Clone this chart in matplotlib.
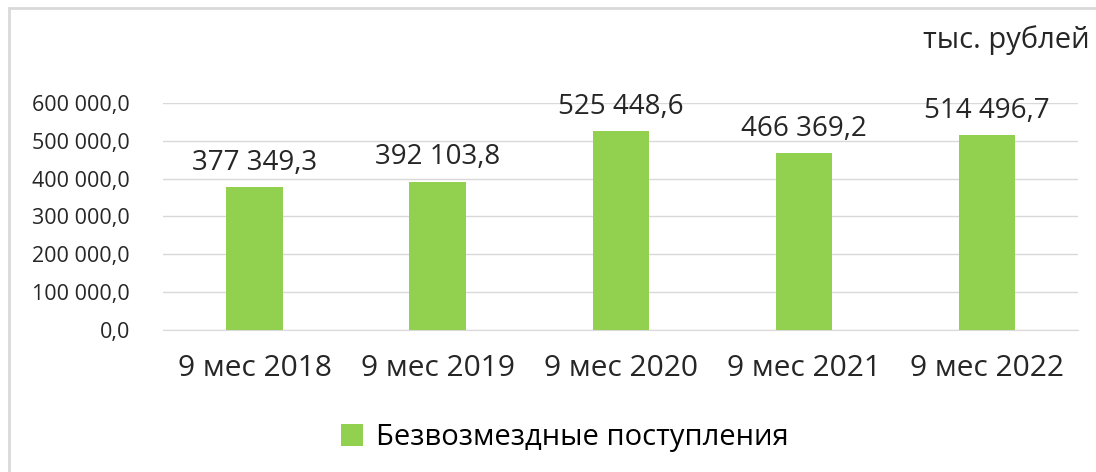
import matplotlib
matplotlib.use('Agg')
import matplotlib.pyplot as plt
from matplotlib.patches import Rectangle, Patch

# Data
categories = ['9 мес 2018', '9 мес 2019', '9 мес 2020', '9 мес 2021', '9 мес 2022']
values = [377349.3, 392103.8, 525448.6, 466369.2, 514496.7]
series_name = 'Безвозмездные поступления'
unit_label = 'тыс. рублей'
yticks = [0, 100000, 200000, 300000, 400000, 500000, 600000]

bar_color = '#92D050'
grid_color = '#D9D9D9'
text_color = '#262626'

plt.rcParams['font.family'] = ['Open Sans', 'DejaVu Sans']


def ru_fmt(v):
    # Russian-style number: space as thousands separator, comma as decimal mark
    s = f"{v:,.1f}"
    return s.replace(',', ' ').replace('.', ',')


fig = plt.figure(figsize=(10.96, 4.72), dpi=100)
ax = fig.add_axes([0.149, 0.301, 0.835, 0.481])

x = range(len(categories))
ax.bar(x, values, width=0.31, color=bar_color, zorder=3)

for xi, v in zip(x, values):
    ax.text(xi, v + 28000, ru_fmt(v), ha='center', va='bottom',
            fontsize=20, color=text_color)

ax.set_xlim(-0.5, len(categories) - 0.5)
ax.set_ylim(0, 600000)
ax.set_yticks(yticks)
ax.set_yticklabels([ru_fmt(t) for t in yticks], fontsize=15.5, color=text_color)
ax.set_xticks(list(x))
ax.set_xticklabels(categories, fontsize=21.5, color=text_color)
ax.tick_params(axis='both', length=0)
ax.tick_params(axis='x', pad=17)
ax.tick_params(axis='y', pad=24)
ax.grid(axis='y', color=grid_color, linewidth=1, zorder=0)
for side in ['top', 'right', 'left']:
    ax.spines[side].set_visible(False)
ax.spines['bottom'].set_color(grid_color)

# unit label top right
fig.text(0.994, 0.915, unit_label, ha='right', va='center', fontsize=21, color=text_color)

# legend at the bottom
handle = Patch(facecolor=bar_color, label=series_name)
fig.legend(handles=[handle], loc='center', bbox_to_anchor=(0.515, 0.073),
           frameon=False, fontsize=21, handlelength=0.75, handleheight=0.75,
           handletextpad=0.45)

# outer frame of the chart area (cut off on the right/bottom in the reference)
fig.patches.append(Rectangle((0.008, -0.05), 1.2, 1.033, transform=fig.transFigure,
                             fill=False, edgecolor='#D9D9D9', linewidth=2))

plt.savefig('out.png', dpi=100)
plt.close()
